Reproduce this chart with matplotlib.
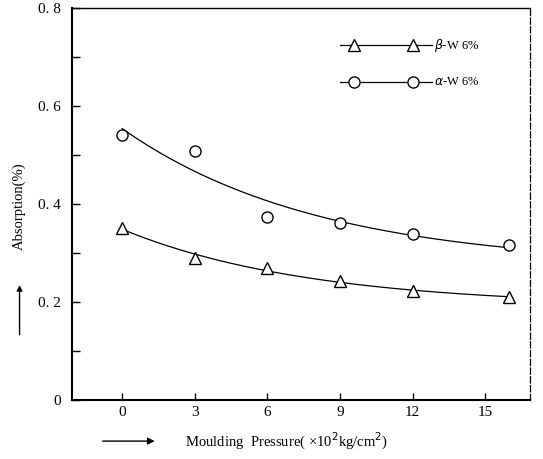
import numpy as np
import matplotlib
matplotlib.use("Agg")
import matplotlib.pyplot as plt

# Moulding pressure (x10^2 kg/cm^2) and water absorption (%)
pressure = [0, 3, 6, 9, 12, 16]
alpha_w6 = [0.541, 0.508, 0.373, 0.361, 0.339, 0.316]
beta_w6 = [0.351, 0.290, 0.269, 0.243, 0.222, 0.210]

x_ticks = [0, 3, 6, 9, 12, 15]
y_ticks = [0, 0.2, 0.4, 0.6, 0.8]
y_tick_labels = ["0", "0. 2", "0. 4", "0. 6", "0. 8"]

plt.rcParams["font.family"] = ["Liberation Serif", "DejaVu Serif"]


def exp_fit(x, y):
    """Least-squares fit of y = a + b*exp(-c*x); returns a callable."""
    x = np.asarray(x, float)
    y = np.asarray(y, float)
    best = None
    for c in np.linspace(0.01, 1.0, 991):
        A = np.column_stack([np.ones_like(x), np.exp(-c * x)])
        coef, *_ = np.linalg.lstsq(A, y, rcond=None)
        err = np.sum((A @ coef - y) ** 2)
        if best is None or err < best[0]:
            best = (err, coef[0], coef[1], c)
    _, a, b, c = best
    return lambda t: a + b * np.exp(-c * t)


fig = plt.figure(figsize=(5.43, 4.59), dpi=100)
ax = fig.add_axes([0.1326, 0.1285, 0.8434, 0.8541])

xs = np.linspace(pressure[0], pressure[-1], 200)
ax.plot(xs, exp_fit(pressure, alpha_w6)(xs), color="black", lw=0.9)
ax.plot(xs, exp_fit(pressure, beta_w6)(xs), color="black", lw=0.9)
ax.plot(pressure, alpha_w6, ls="none", marker="o", ms=8, mfc="white",
        mec="black", mew=1.0)
ax.plot(pressure, beta_w6, ls="none", marker="^", ms=8, mfc="white",
        mec="black", mew=1.0)

ax.set_xlim(-2.07, 16.85)
ax.set_ylim(0, 0.8)
ax.set_xticks(x_ticks)
ax.set_xticklabels([str(v) for v in x_ticks])
ax.set_yticks(y_ticks)
ax.set_yticklabels(y_tick_labels)
ax.set_yticks([0.1, 0.3, 0.5, 0.7], minor=True)
ax.tick_params(axis="x", direction="in", length=5, width=1.0,
               labelsize=11, pad=4)
ax.tick_params(axis="y", direction="in", length=6, width=1.0,
               labelsize=11, pad=8)
ax.tick_params(axis="y", which="minor", direction="in", length=6, width=1.0)

for side in ("left", "bottom"):
    ax.spines[side].set_linewidth(1.5)
ax.spines["top"].set_linewidth(1.0)
ax.spines["right"].set_linewidth(0.9)
ax.spines["right"].set_linestyle((0, (5, 2)))

# Legend drawn as two marker-on-line samples with labels
legend_rows = [("^", r"$\beta$-W 6%", 0.905), ("o", r"$\alpha$-W 6%", 0.81)]
for marker, label, yy in legend_rows:
    ax.plot([0.585, 0.785], [yy, yy], color="black", lw=0.9,
            transform=ax.transAxes)
    ax.plot([0.615, 0.745], [yy, yy], ls="none", marker=marker, ms=8,
            mfc="white", mec="black", mew=1.0, transform=ax.transAxes)
    ax.text(0.79, yy, label, transform=ax.transAxes, va="center",
            ha="left", fontsize=9)

# Axis titles with direction arrows
fig.text(0.34, 0.039, "Moulding  Pressure( \u00d710$^2$kg/cm$^2$)",
         fontsize=10.5, ha="left", va="center")
fig.add_artist(matplotlib.patches.FancyArrowPatch(
    (0.184, 0.039), (0.29, 0.039), transform=fig.transFigure,
    arrowstyle="-|>", mutation_scale=10, color="black", lw=1.0))

fig.text(0.036, 0.55, "Absorption(%)", fontsize=10.5, rotation=90,
         ha="center", va="center")
fig.add_artist(matplotlib.patches.FancyArrowPatch(
    (0.036, 0.265), (0.036, 0.385), transform=fig.transFigure,
    arrowstyle="-|>", mutation_scale=8, color="black", lw=1.0))

fig.savefig("out.png", dpi=100)
